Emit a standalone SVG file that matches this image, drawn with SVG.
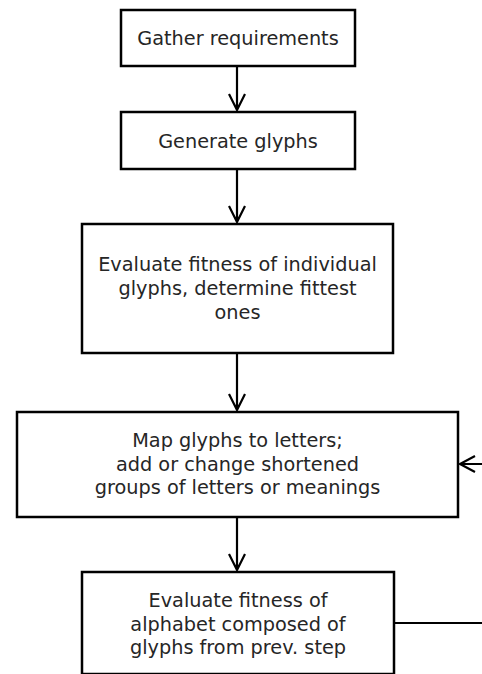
<svg xmlns="http://www.w3.org/2000/svg" width="482" height="674" viewBox="0 0 482 674">
<style>
.box{fill:#fff;stroke:#000;stroke-width:2.5}
.t{font-family:"DejaVu Sans",sans-serif;font-size:19.3px;fill:#262626;text-anchor:middle}
.c{fill:none;stroke:#000;stroke-width:2.2}
</style>
<rect width="482" height="674" fill="#fff"/>
<g id="connectors">
<path class="c" d="M237,67 V110 M229,94 L237,110 L245,94"/>
<path class="c" d="M237,170 V222 M229,206 L237,222 L245,206"/>
<path class="c" d="M237,354 V410 M229,394 L237,410 L245,394"/>
<path class="c" d="M237,518 V570 M229,554 L237,570 L245,554"/>
<path class="c" d="M394,623 H482"/>
<path class="c" d="M482,464 H460 M475,456 L460,464 L475,472"/>
</g>
<g id="n1"><rect class="box" x="121" y="10" width="234" height="56"/><text class="t" x="238" y="45">Gather requirements</text></g>
<g id="n2"><rect class="box" x="121" y="112" width="234" height="57"/><text class="t" x="238" y="148">Generate glyphs</text></g>
<g id="n3"><rect class="box" x="82" y="224" width="311" height="129"/><text class="t" x="237.5" y="270.5">Evaluate fitness of individual</text><text class="t" x="237.5" y="294.5">glyphs, determine fittest</text><text class="t" x="237.5" y="318.5">ones</text></g>
<g id="n4"><rect class="box" x="17" y="412" width="441" height="105"/><text class="t" x="237.5" y="447">Map glyphs to letters;</text><text class="t" x="237.5" y="470.5">add or change shortened</text><text class="t" x="237.5" y="494">groups of letters or meanings</text></g>
<g id="n5"><rect class="box" x="82" y="572" width="312" height="102"/><text class="t" x="238" y="607">Evaluate fitness of</text><text class="t" x="238" y="630.5">alphabet composed of</text><text class="t" x="238" y="654">glyphs from prev. step</text></g>
</svg>
